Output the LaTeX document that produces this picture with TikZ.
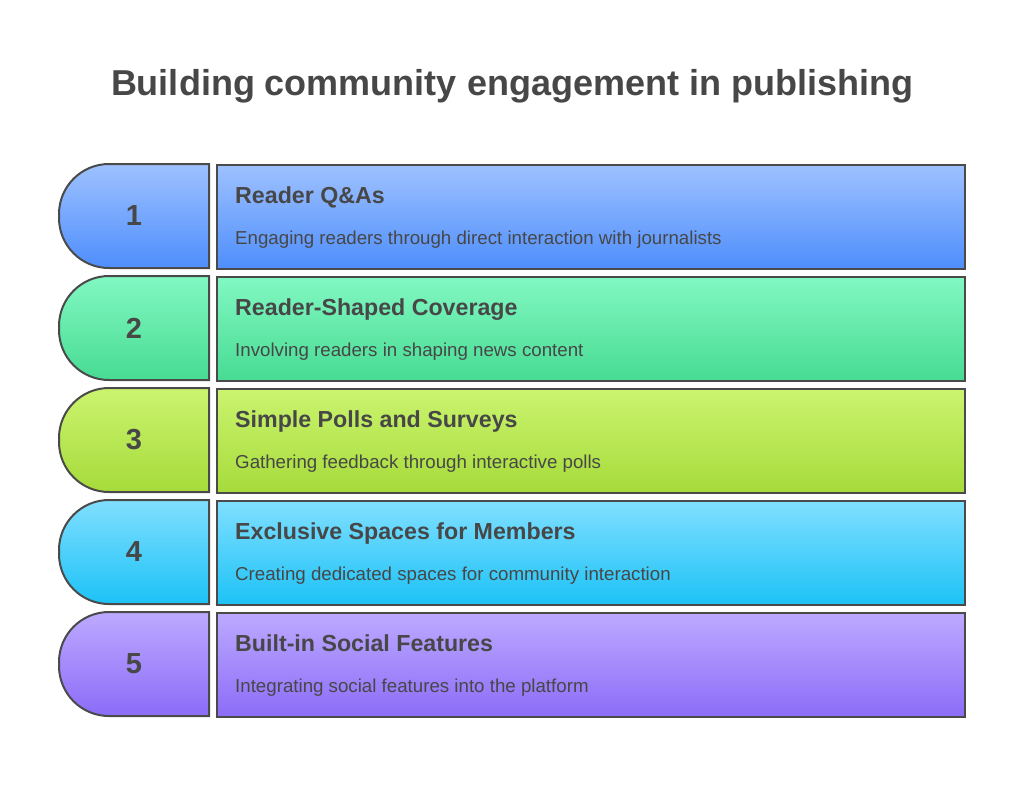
\documentclass[tikz,border=0pt]{standalone}
\usepackage{fontspec}
\setmainfont{Liberation Sans}
\begin{document}
\begin{tikzpicture}[x=1pt,y=-1pt]
\definecolor{ink}{HTML}{474747}
\definecolor{edge}{HTML}{4A4A4A}
\definecolor{t1}{HTML}{9EC1FF}\definecolor{b1}{HTML}{4E8EFC}
\definecolor{t2}{HTML}{82F8C2}\definecolor{b2}{HTML}{47DB93}
\definecolor{t3}{HTML}{CBF46F}\definecolor{b3}{HTML}{A6DB3A}
\definecolor{t4}{HTML}{80DFFF}\definecolor{b4}{HTML}{1CC2F6}
\definecolor{t5}{HTML}{BDA9FF}\definecolor{b5}{HTML}{8B6CF8}
\tikzset{
  boxline/.style={draw=edge, line width=2pt},
  numtxt/.style={text=ink, font=\fontsize{29}{32}\selectfont\bfseries},
  headtxt/.style={text=ink, font=\fontsize{23.2}{26}\selectfont\bfseries, anchor=base west, inner sep=0pt},
  bodytxt/.style={text=ink, font=\fontsize{18.7}{22}\selectfont, anchor=base west, inner sep=0pt},
}
\useasboundingbox[fill=white] (0,0) rectangle (1024,807);
\node[text=ink, font=\fontsize{36}{40}\selectfont\bfseries, anchor=base, inner sep=0pt] (title) at (512,95) {Building community engagement in publishing};
\foreach \i/\head/\body in {
  1/Reader Q\&As/Engaging readers through direct interaction with journalists,
  2/Reader-Shaped Coverage/Involving readers in shaping news content,
  3/Simple Polls and Surveys/Gathering feedback through interactive polls,
  4/Exclusive Spaces for Members/Creating dedicated spaces for community interaction,
  5/Built-in Social Features/Integrating social features into the platform}{
  \pgfmathsetmacro{\top}{164+112*(\i-1)}
  \pgfmathsetmacro{\bot}{\top+104}
  \pgfmathsetmacro{\mid}{\top+52}
  \draw[boxline, top color=t\i, bottom color=b\i, rounded corners=50pt]
    (209,\top) -- (59,\top) -- (59,\bot) [sharp corners] -- (209,\bot) -- cycle;
  \node[numtxt] (num\i) at (134,\mid) {\i};
  \node[boxline, top color=t\i, bottom color=b\i, minimum width=748pt, minimum height=104pt, inner sep=0pt, anchor=north west] (box\i) at (216,\top) {};
  \node[headtxt] (head\i) at (235,\top+39) {\head};
  \node[bodytxt] (body\i) at (235,\top+80) {\body};
}
\end{tikzpicture}
\end{document}
